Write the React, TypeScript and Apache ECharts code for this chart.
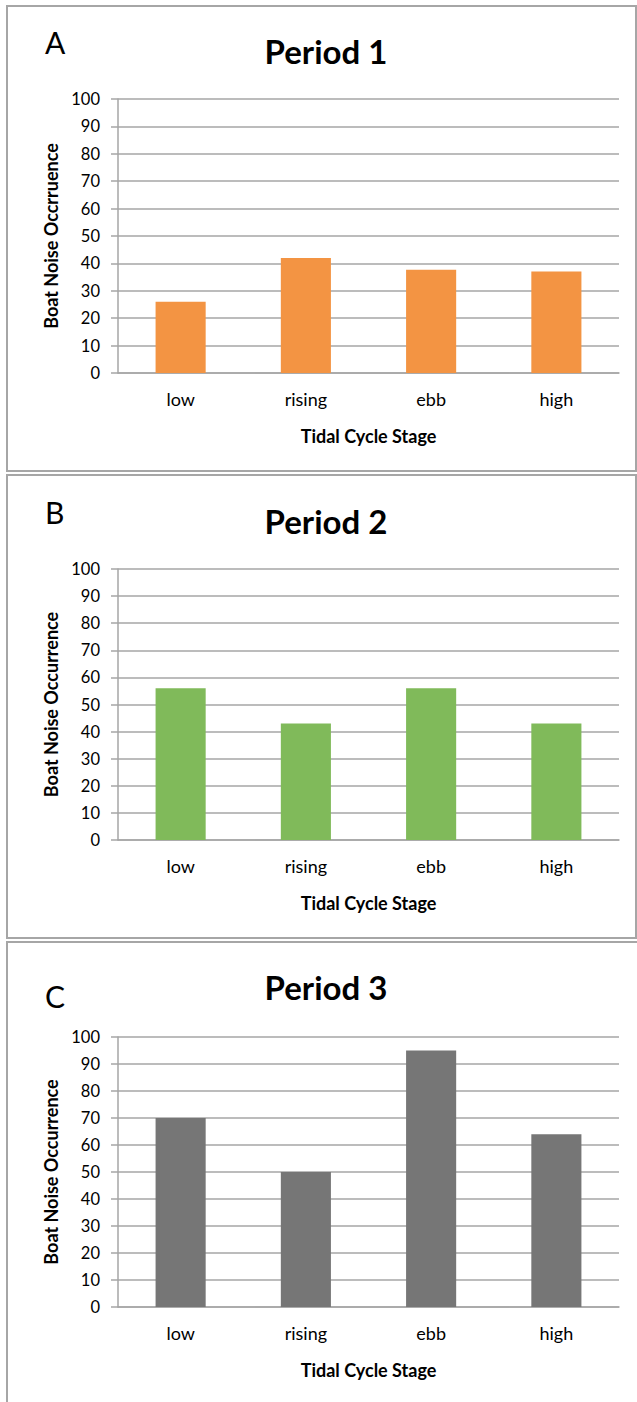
import React, { useEffect, useRef } from "react";
import * as echarts from "echarts";

const categories = ["low", "rising", "ebb", "high"];
const period1 = [26, 42, 37.7, 37];
const period2 = [56, 43, 56, 43];
const period3 = [70, 50, 95, 64];
const yMin = 0;
const yMax = 100;
const yStep = 10;
const titles = ["Period 1", "Period 2", "Period 3"];
const letters = ["A", "B", "C"];
const yNames = ["Boat Noise Occrruence", "Boat Noise Occurrence", "Boat Noise Occurrence"];
const xName = "Tidal Cycle Stage";
const colors = ["#F39443", "#80BA5A", "#767676"];

const FONT = "Lato";
const GRID_COLOR = "#a6a6a6";

const panels = [
  { top: 99, height: 274, borderTop: 6, borderBottom: 471, titleY: 51, letterY: 42 },
  { top: 569, height: 271, borderTop: 475, borderBottom: 938, titleY: 521, letterY: 512 },
  { top: 1037, height: 270, borderTop: 942, borderBottom: 1500, titleY: 987, letterY: 996 },
];

export default function App() {
  const ref = useRef<HTMLDivElement>(null);
  useEffect(() => {
    if (!ref.current) return;
    const chart = echarts.init(ref.current, undefined, { renderer: "svg" });
    const data = [period1, period2, period3];
    const grids = panels.map((p) => ({ left: 118, right: 18, top: p.top, height: p.height }));
    const xAxes = panels.map((_, i) => ({
      type: "category",
      gridIndex: i,
      data: categories,
      name: xName,
      nameLocation: "middle",
      nameGap: 54,
      nameTextStyle: { fontFamily: FONT, fontWeight: "bold", fontSize: 18, color: "#000" },
      axisLine: { show: true, lineStyle: { color: GRID_COLOR, width: 1.5 } },
      axisTick: { show: false },
      axisLabel: { fontFamily: FONT, fontSize: 18, color: "#000", margin: 17 },
    }));
    const yAxes = panels.map((_, i) => ({
      type: "value",
      gridIndex: i,
      min: yMin,
      max: yMax,
      interval: yStep,
      name: yNames[i],
      nameLocation: "middle",
      nameGap: 58,
      nameTextStyle: { fontFamily: FONT, fontWeight: "bold", fontSize: 18, color: "#000" },
      axisLine: { show: true, lineStyle: { color: GRID_COLOR, width: 1.5 } },
      axisTick: { show: true, length: 7, lineStyle: { color: GRID_COLOR, width: 1.5 } },
      axisLabel: { fontFamily: FONT, fontSize: 16.5, color: "#000", margin: 18 },
      splitLine: { show: true, lineStyle: { color: GRID_COLOR, width: 1.5 } },
    }));
    const series = data.map((d, i) => ({
      type: "bar",
      xAxisIndex: i,
      yAxisIndex: i,
      data: d,
      barWidth: "40%",
      itemStyle: { color: colors[i] },
    }));
    const graphics: any[] = [];
    panels.forEach((p, i) => {
      if (i < 2) {
        graphics.push({
          type: "rect",
          shape: { x: 7, y: p.borderTop, width: 629, height: p.borderBottom - p.borderTop },
          style: { fill: "none", stroke: GRID_COLOR, lineWidth: 2 },
          silent: true,
        });
      } else {
        graphics.push({
          type: "polyline",
          shape: { points: [[7, 1402], [7, p.borderTop], [637, p.borderTop]] },
          style: { fill: "none", stroke: GRID_COLOR, lineWidth: 2 },
          silent: true,
        });
      }
      graphics.push({
        type: "text",
        x: 326,
        y: p.titleY,
        style: {
          text: titles[i],
          fontFamily: FONT,
          fontWeight: "bold",
          fontSize: 33,
          fill: "#000",
          align: "center",
          verticalAlign: "middle",
        },
      });
      graphics.push({
        type: "text",
        x: 45,
        y: p.letterY,
        style: {
          text: letters[i],
          fontFamily: FONT,
          fontSize: 30,
          fill: "#000",
          align: "left",
          verticalAlign: "middle",
        },
      });
    });
    chart.setOption({
      animation: false,
      backgroundColor: "#fff",
      grid: grids,
      xAxis: xAxes,
      yAxis: yAxes,
      series,
      graphic: graphics,
    });
    return () => chart.dispose();
  }, []);
  return (
    <div
      ref={ref}
      style={{ position: "absolute", left: 0, top: 0, width: 637, height: 1402 }}
    />
  );
}
